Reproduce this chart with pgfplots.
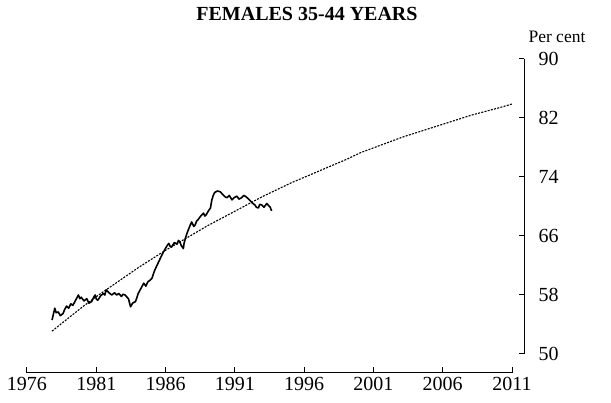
\documentclass[border=0pt]{standalone}
\usepackage{pgfplots}
\pgfplotsset{compat=1.18}
\usepackage{fontspec}
\setmainfont{Liberation Serif}
\begin{document}
\begin{tikzpicture}
\useasboundingbox (0pt,0pt) rectangle (611pt,403pt);
% title and unit label
\node[font=\fontsize{20}{20}\selectfont\bfseries] at (307pt,389pt) {FEMALES 35-44 YEARS};
\node[font=\fontsize{17.5}{17.5}\selectfont, anchor=west] at (525pt,366pt) {Per cent};
% data axis with right y axis
\begin{axis}[
  at={(27pt,49pt)}, anchor=south west,
  scale only axis, width=497pt, height=295pt,
  xmin=1976, xmax=2011.76, ymin=50, ymax=90,
  axis x line=none, axis y line=right,
  y axis line style={-, line width=1pt},
  ytick={50,58,66,74,82,90},
  tick align=inside, major tick length=5pt,
  tick style={line width=1pt, black},
  yticklabel style={font=\fontsize{20}{20}\selectfont, anchor=west, xshift=11pt},
  /pgf/number format/assume math mode=true,
  clip=false,
]
\addplot[black, line width=1.1pt, dash pattern=on 2pt off 1.3pt] coordinates {
(1977.8,53.1) (1979,54.9) (1980,56.4) (1981,57.8) (1982,59.1) (1983,60.4)
(1984,61.7) (1985,62.9) (1986,64.1) (1987,65.2) (1988,66.3) (1989,67.4)
(1990,68.4) (1991,69.4) (1992,70.4) (1993,71.4) (1994,72.3) (1995,73.2)
(1996,74.0) (1997,74.8) (1998,75.6) (1999,76.4) (2000,77.3) (2001,78.0)
(2002,78.7) (2003,79.4) (2004,80.0) (2005,80.6) (2006,81.2) (2007,81.8)
(2008,82.4) (2009,82.9) (2010,83.4) (2010.9,83.9)
};
\addplot[black, line width=1.6pt, line join=round] coordinates {
(1977.8,54.6) (1977.9,55.4) (1978.0,56.2) (1978.1,55.6) (1978.25,55.7) (1978.4,55.2)
(1978.6,55.5) (1978.7,56.0) (1978.85,56.5) (1979.0,56.2) (1979.15,56.8) (1979.3,56.6)
(1979.5,57.3) (1979.7,58.0) (1979.8,57.5) (1979.9,57.7) (1980.1,57.2) (1980.3,57.5)
(1980.45,56.9) (1980.65,57.1) (1980.8,57.7) (1980.9,58.0) (1981.0,57.4) (1981.1,57.3)
(1981.3,57.9) (1981.5,58.2) (1981.6,58.0) (1981.7,58.7) (1981.9,58.3) (1982.1,58.0)
(1982.3,58.3) (1982.45,58.0) (1982.6,58.2) (1982.8,57.8) (1982.9,58.1) (1983.05,58.0)
(1983.2,57.7) (1983.3,57.5) (1983.45,56.4) (1983.6,56.9) (1983.8,57.1) (1983.9,57.6)
(1984.0,58.2) (1984.2,58.9) (1984.4,59.6) (1984.55,59.2) (1984.7,59.8) (1984.85,60.0)
(1985.0,60.3) (1985.1,60.9) (1985.2,61.4) (1985.4,62.2) (1985.6,63.0) (1985.75,63.6)
(1985.9,64.1) (1986.05,64.6) (1986.2,65.0) (1986.3,64.6) (1986.4,64.5) (1986.6,65.1)
(1986.8,64.9) (1986.9,65.4) (1987.0,65.2) (1987.1,64.7) (1987.25,64.3) (1987.3,65.0)
(1987.4,65.7) (1987.5,66.3) (1987.6,66.8) (1987.75,67.5) (1987.85,67.9) (1988.0,67.3)
(1988.1,67.5) (1988.2,68.0) (1988.3,68.2) (1988.5,68.7) (1988.7,69.1) (1988.8,68.7)
(1988.9,68.9) (1989.05,69.4) (1989.2,69.8) (1989.3,70.9) (1989.4,71.5) (1989.5,71.9)
(1989.7,72.1) (1989.9,72.0) (1990.0,71.8) (1990.1,71.6) (1990.25,71.3) (1990.4,71.2)
(1990.55,71.5) (1990.75,70.9) (1990.9,71.2) (1991.1,71.4) (1991.25,71.0) (1991.45,71.2)
(1991.6,71.5) (1991.7,71.4) (1991.9,71.1) (1992.05,70.8) (1992.2,70.5) (1992.4,70.2)
(1992.5,69.9) (1992.65,69.8) (1992.75,70.3) (1992.9,70.2) (1993.05,69.9) (1993.25,70.4)
(1993.4,70.1) (1993.5,69.9) (1993.6,69.4)
};
\end{axis}
% x axis drawn lower, separately
\begin{axis}[
  at={(27pt,30pt)}, anchor=south west,
  scale only axis, width=485pt, height=10pt,
  xmin=1976, xmax=2011, ymin=0, ymax=1,
  axis x line=bottom, axis y line=none,
  x axis line style={-, line width=1pt},
  xtick={1976,1981,1986,1991,1996,2001,2006,2011},
  tick align=inside, major tick length=6pt,
  tick style={line width=1pt, black},
  xticklabel style={font=\fontsize{20}{20}\selectfont, yshift=-1pt},
  /pgf/number format/assume math mode=true,
  /pgf/number format/1000 sep={},
]
\end{axis}
\end{tikzpicture}
\end{document}
